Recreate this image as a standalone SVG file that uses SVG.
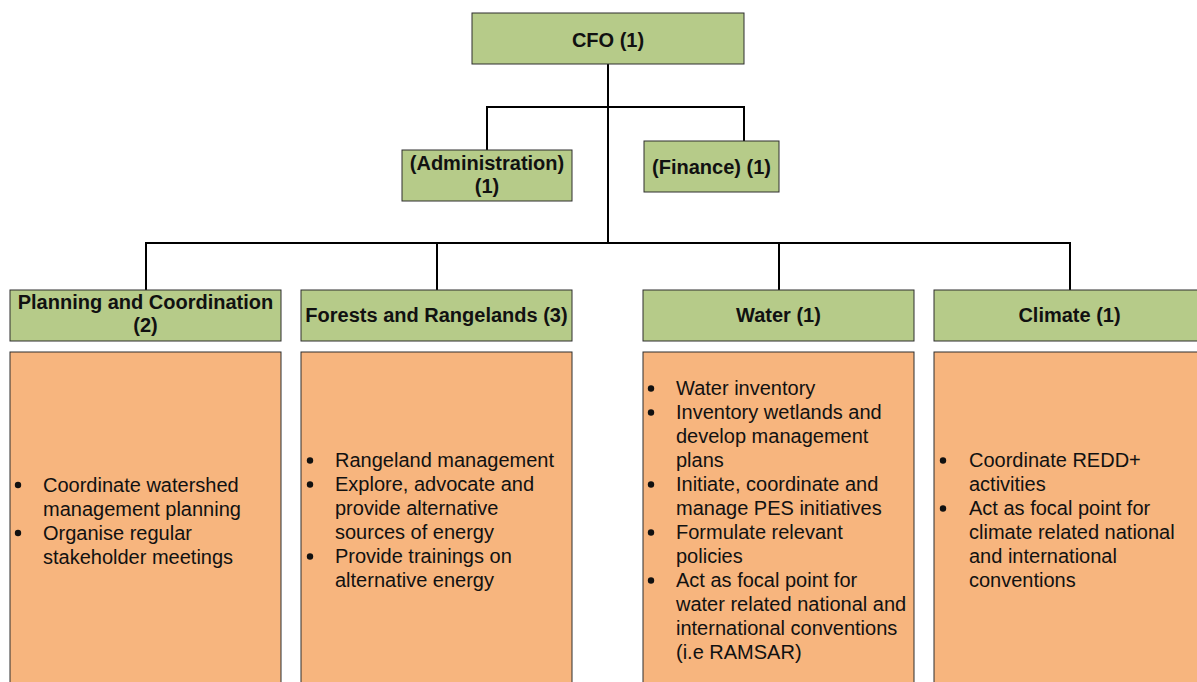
<svg xmlns="http://www.w3.org/2000/svg" width="1197" height="682" viewBox="0 0 1197 682">
<style>
.g{fill:#b6cb89;stroke:#2e2e2e;stroke-width:1}
.o{fill:#f7b57e;stroke:#2e2e2e;stroke-width:1}
.h{font-family:"Liberation Sans",Arial,sans-serif;font-weight:bold;font-size:20px;fill:#111;text-anchor:middle}
.b{font-family:"Liberation Sans",Arial,sans-serif;font-size:20px;fill:#111}
.c{fill:none;stroke:#000;stroke-width:2}
.d{fill:#111}
</style>
<defs><circle id="dot" r="3.2"/></defs>
<rect width="1197" height="682" fill="#fff"/>
<g id="connectors">
<path class="c" d="M608,64V243M487,150V107H744V141M146,290V243H1070V290M437,243V290M779,243V290"/>
</g>
<g id="cfo"><rect class="g" x="472" y="13" width="272" height="51"/><text class="h" x="608" y="46.5">CFO (1)</text></g>
<g id="administration"><rect class="g" x="402" y="150" width="170" height="51"/><text class="h" x="487" y="169.5">(Administration)</text><text class="h" x="487" y="192.5">(1)</text></g>
<g id="finance"><rect class="g" x="644" y="141" width="135" height="51"/><text class="h" x="711.5" y="173.5">(Finance) (1)</text></g>
<g id="planning"><rect class="g" x="10" y="290" width="271" height="51"/><text class="h" x="145.5" y="309">Planning and Coordination</text><text class="h" x="145.5" y="332">(2)</text></g>
<g id="forests"><rect class="g" x="301" y="290" width="271" height="51"/><text class="h" x="436.5" y="322">Forests and Rangelands (3)</text></g>
<g id="water"><rect class="g" x="643" y="290" width="271" height="51"/><text class="h" x="778.5" y="322">Water (1)</text></g>
<g id="climate"><rect class="g" x="934" y="290" width="271" height="51"/><text class="h" x="1069.5" y="322">Climate (1)</text></g>
<g id="planning-tasks"><rect class="o" x="10" y="352" width="271" height="340"/>
<g class="d"><use href="#dot" x="18" y="485"/><use href="#dot" x="18" y="533"/></g>
<text class="b"><tspan x="43" y="491.5">Coordinate watershed</tspan><tspan x="43" y="515.5">management planning</tspan><tspan x="43" y="539.5">Organise regular</tspan><tspan x="43" y="563.5">stakeholder meetings</tspan></text></g>
<g id="forests-tasks"><rect class="o" x="301" y="352" width="271" height="340"/>
<g class="d"><use href="#dot" x="310" y="460.5"/><use href="#dot" x="310" y="484.5"/><use href="#dot" x="310" y="556.5"/></g>
<text class="b"><tspan x="335" y="467">Rangeland management</tspan><tspan x="335" y="491">Explore, advocate and</tspan><tspan x="335" y="515">provide alternative</tspan><tspan x="335" y="539">sources of energy</tspan><tspan x="335" y="563">Provide trainings on</tspan><tspan x="335" y="587">alternative energy</tspan></text></g>
<g id="water-tasks"><rect class="o" x="643" y="352" width="271" height="340"/>
<g class="d"><use href="#dot" x="651" y="388.5"/><use href="#dot" x="651" y="412.5"/><use href="#dot" x="651" y="484.5"/><use href="#dot" x="651" y="532.5"/><use href="#dot" x="651" y="580.5"/></g>
<text class="b"><tspan x="676" y="395">Water inventory</tspan><tspan x="676" y="419">Inventory wetlands and</tspan><tspan x="676" y="443">develop management</tspan><tspan x="676" y="467">plans</tspan><tspan x="676" y="491">Initiate, coordinate and</tspan><tspan x="676" y="515">manage PES initiatives</tspan><tspan x="676" y="539">Formulate relevant</tspan><tspan x="676" y="563">policies</tspan><tspan x="676" y="587">Act as focal point for</tspan><tspan x="676" y="611">water related national and</tspan><tspan x="676" y="635">international conventions</tspan><tspan x="676" y="659">(i.e RAMSAR)</tspan></text></g>
<g id="climate-tasks"><rect class="o" x="934" y="352" width="271" height="340"/>
<g class="d"><use href="#dot" x="943" y="460.5"/><use href="#dot" x="943" y="508.5"/></g>
<text class="b"><tspan x="969" y="467">Coordinate REDD+</tspan><tspan x="969" y="491">activities</tspan><tspan x="969" y="515">Act as focal point for</tspan><tspan x="969" y="539">climate related national</tspan><tspan x="969" y="563">and international</tspan><tspan x="969" y="587">conventions</tspan></text></g>
</svg>
